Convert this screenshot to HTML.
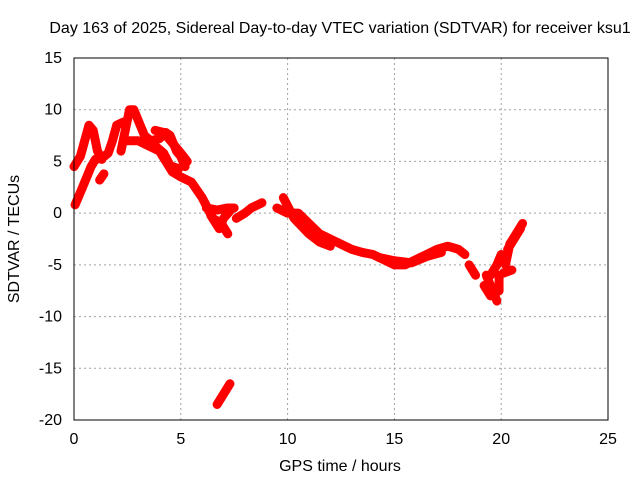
<!DOCTYPE html>
<html><head><meta charset="utf-8">
<style>
body{margin:0;background:#fff;}
svg{display:block;font-family:"Liberation Sans",sans-serif;}
</style></head>
<body>
<svg id="chart" width="640" height="480">
<rect width="640" height="480" fill="#fff"/>
<g id="grid"></g>
<g id="series"></g>
<g id="axes"></g>
<text x="340" y="33" text-anchor="middle" font-size="16">Day 163 of 2025, Sidereal Day-to-day VTEC variation (SDTVAR) for receiver ksu1</text>
<text x="340" y="471" text-anchor="middle" font-size="16">GPS time / hours</text>
<text transform="translate(19,239) rotate(-90)" text-anchor="middle" font-size="16">SDTVAR / TECUs</text>
</svg>
<script>
const xTicks=[0,5,10,15,20,25];
const yTicks=[15,10,5,0,-5,-10,-15,-20];
const arcA=[[0.05,0.8],[0.4,2.5],[0.8,4.5],[1.0,5.2],[1.3,5.3],[1.6,5.8],[1.8,7],[2.0,8.5],[2.3,8.8]];
const arcB=[[0,4.5],[0.3,5.5],[0.5,7],[0.7,8.5],[0.9,8],[1.1,6],[1.3,5.2]];
const arcC=[[1.2,3.2],[1.4,3.8]];
const arcD=[[2.2,6],[2.4,8],[2.6,10],[2.8,10],[3.0,9],[3.3,7.5],[3.6,7],[4.0,7.2],[4.3,7.8],[4.5,7.5],[4.8,6],[5.0,5.5],[5.2,4.5]];
const arcE=[[2.5,7],[3,7],[3.5,6.5],[4,6],[4.3,5],[4.6,4],[5,3.5],[5.5,3],[6,1.5],[6.5,-0.5],[6.9,-1],[7.2,-2]];
const arcF=[[3.8,8],[4.2,7.8],[4.6,6.8],[5,5.8],[5.3,5]];
const arcF2=[[3.3,6.8],[3.8,6.5],[4.2,5.8],[4.5,4.6],[4.9,4.3]];
const arcG=[[6.2,0.5],[6.7,0.3],[7.2,0.5],[7.5,0.5]];
const arcG2=[[6.4,-0.2],[6.8,-1.5],[7.0,-0.5],[7.3,0.2]];
const arcH=[[7.6,-0.5],[8,0],[8.3,0.5],[8.8,1.0]];
const arcI=[[9.5,0.5],[10,0],[10.5,0],[11,-1],[11.5,-2],[12,-2.5],[12.5,-3],[13,-3.5],[13.5,-3.8],[14,-4],[14.5,-4.5],[15,-5],[15.5,-5],[16,-4.5],[16.5,-4],[17,-3.5],[17.5,-3.2],[18,-3.5],[18.3,-4]];
const arcI2=[[14.3,-4.3],[15,-4.6],[15.8,-4.8],[16.5,-4.2],[17.2,-3.8]];
const arcJ=[[9.8,1.5],[10.3,-0.5],[11,-2],[11.5,-2.8],[12,-3.2]];
const arcK=[[18.5,-5],[18.8,-6]];
const arcL=[[19.3,-6],[19.5,-7],[19.8,-8.5]];
const arcL2=[[19.2,-7],[19.5,-8],[19.9,-7.5],[19.9,-6]];
const arcM=[[19.5,-6],[19.8,-5],[20,-4]];
const arcN=[[20.2,-5],[20.4,-3],[20.7,-2],[21,-1]];
const arcN2=[[20.3,-3.5],[20.6,-2.5],[20.9,-1.5]];
const arcO=[[20.1,-5.8],[20.5,-5.5]];
const arcP=[[6.7,-18.5],[7.0,-17.5],[7.3,-16.5]];
const arcs=[arcA,arcB,arcC,arcD,arcE,arcF,arcF2,arcG,arcG2,arcH,arcI,arcI2,arcJ,arcK,arcL,arcL2,arcM,arcN,arcN2,arcO,arcP];

const X0=74,X1=608,Y0=420,Y1=58;
const xs=h=>X0+(h-0)/(25-0)*(X1-X0);
const ys=v=>Y0-(v+20)/(35)*(Y0-Y1);
const NS="http://www.w3.org/2000/svg";
const grid=document.getElementById('grid'),axes=document.getElementById('axes'),series=document.getElementById('series');
function mk(tag,attrs,parent){const e=document.createElementNS(NS,tag);for(const k in attrs)e.setAttribute(k,attrs[k]);parent.appendChild(e);return e;}
xTicks.forEach(t=>{
  const x=xs(t);
  if(t>0&&t<25){const g=mk('line',{x1:x,x2:x,y1:Y1,y2:Y0,stroke:'#a0a0a0','stroke-dasharray':'2,3'},grid);
  
  }
  const l=mk('text',{x:x,y:444,'text-anchor':'middle','font-size':'16'},axes);l.textContent=t;
  
  
});
yTicks.forEach(t=>{
  const y=ys(t);
  if(t>-20&&t<15){const g=mk('line',{x1:X0,x2:X1,y1:y,y2:y,stroke:'#a0a0a0','stroke-dasharray':'2,3'},grid);
  
  }
  const l=mk('text',{x:62,y:y+5,'text-anchor':'end','font-size':'16'},axes);l.textContent=t;
  
  
});
const frame=mk('rect',{x:X0,y:Y1,width:X1-X0,height:Y0-Y1,fill:'none',stroke:'#000','stroke-width':'1'},axes);


arcs.forEach(a=>{
  const p=mk('polyline',{points:a.map(d=>xs(d[0])+','+ys(d[1])).join(' '),fill:'none',stroke:'#ff0000','stroke-width':'9','stroke-linejoin':'round','stroke-linecap':'round'},series);
  
  
});
</script>
</body></html>
